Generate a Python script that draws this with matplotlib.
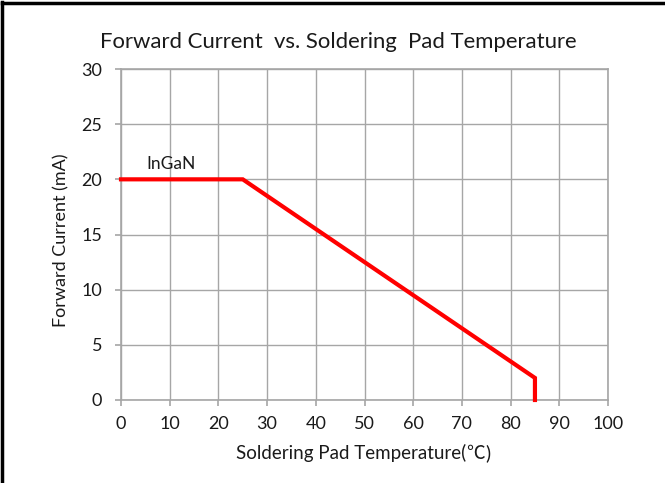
import matplotlib
matplotlib.use("Agg")
import matplotlib.pyplot as plt
from matplotlib.lines import Line2D

temps = [0, 25, 85, 85]
current = [20, 20, 2, 0]
x_ticks = [0, 10, 20, 30, 40, 50, 60, 70, 80, 90, 100]
y_ticks = [0, 5, 10, 15, 20, 25, 30]
series_label = "InGaN"

plt.rcParams['font.family'] = ['Lato', 'DejaVu Sans']

fig = plt.figure(figsize=(6.65, 4.83), dpi=100)
ax = fig.add_axes([121/665, 1-400/483, (608-121)/665, (400-69)/483])

grid_c = '#a6a6a6'
txt_c = '#1a1a1a'
ax.plot(temps, current, color='#ff0000', lw=3, solid_joinstyle='miter', zorder=3, clip_on=False)
ax.text(10.3, 21.4, series_label, fontsize=12.5, ha='center', va='center', color=txt_c)

ax.set_xlim(0, 100)
ax.set_ylim(0, 30)
ax.set_xticks(x_ticks)
ax.set_yticks(y_ticks)
ax.grid(True, color=grid_c, lw=1)
for s in ax.spines.values():
    s.set_color(grid_c)
    s.set_linewidth(1.2)
ax.tick_params(axis='both', direction='out', length=4.5, color=grid_c, width=1.2,
               labelsize=13, labelcolor=txt_c)
ax.tick_params(axis='x', pad=7)
ax.tick_params(axis='y', pad=9)
ax.set_axisbelow(True)

fig.text(338/665, 1-42/483, "Forward Current  vs. Soldering  Pad Temperature",
         ha='center', va='center', fontsize=15.9, color=txt_c)

ybase = 1 - 459/483
t1 = fig.text(236/665, ybase, "Soldering Pad Temperature(", ha='left', va='baseline',
              fontsize=13.5, color=txt_c)
t2 = fig.text(0, ybase, "℃", fontsize=13.5, color=txt_c, va='baseline',
              family=['Noto Sans CJK SC', 'DejaVu Sans'])
t3 = fig.text(0, ybase, ")", fontsize=13.5, color=txt_c, va='baseline')
fig.canvas.draw()
r = fig.canvas.get_renderer()
bb1 = t1.get_window_extent(r)
t2.set_x(bb1.x1 / fig.bbox.width)
bb2 = t2.get_window_extent(r)
t3.set_x(bb2.x1 / fig.bbox.width)

fig.text(61/665, 1-240/483, "Forward Current (mA)", ha='center', va='center',
         fontsize=13, color=txt_c, rotation=90)

fig.add_artist(Line2D([2/665, 2/665], [0, 1-2/483], color='black', lw=2.5, transform=fig.transFigure))
fig.add_artist(Line2D([2/665, 1], [1-3/483, 1-3/483], color='black', lw=2.5, transform=fig.transFigure))

fig.savefig("out.png", dpi=100)
